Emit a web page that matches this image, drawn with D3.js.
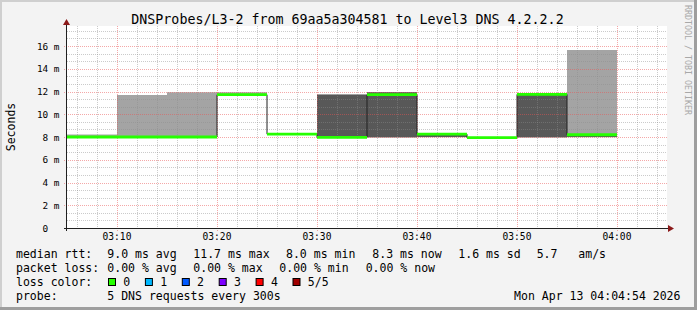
<!DOCTYPE html>
<html>
<head>
<meta charset="utf-8">
<script src="https://cdn.jsdelivr.net/npm/d3@7"></script>
<style>
  body { margin: 0; background: #f3f3f3; }
  svg { display: block; }
  text { font-family: "DejaVu Sans Mono", monospace; white-space: pre; }
</style>
</head>
<body>
<div id="chart"></div>
<script>
// five-minute probe rounds, start time of each step (UTC)
const stepStarts = ['03:05', '03:10', '03:15', '03:20', '03:25', '03:30',
    '03:35', '03:40', '03:45', '03:50', '03:55'];
// median rtt (ms) for each step
const median = [8.0, 8.0, 8.0, 11.72, 8.25, 7.97, 11.72, 8.25, 7.95, 11.75, 8.2];
// sorted ping values per step: lowest, 2nd, 4th, highest (ms)
const pingLow = [7.95, 7.95, 7.95, 11.70, 8.20, 7.95, 7.95, 7.97, 7.93, 7.95, 7.97];
const ping2 = [8.0, 8.0, 8.0, 11.72, 8.25, 7.97, 7.97, 7.99, 7.95, 7.97, 7.99];
const ping4 = [8.0, 8.0, 8.0, 11.75, 8.25, 11.72, 11.93, 8.25, 7.97, 11.75, 8.22];
const pingHigh = [8.22, 11.69, 11.93, 11.93, 8.30, 11.75, 11.95, 8.27, 8.00, 11.78, 15.65];

const yLabels = [0, 2, 4, 6, 8, 10, 12, 14, 16];
const lossLabels = ['0', '1', '2', '3', '4', '5/5'];
const lossColors = ['#26ff00', '#00b8ff', '#0059ff', '#7e00ff', '#ff0000', '#a10000'];

const legendRtt = [['9.0 ms avg', 107.3], ['11.7 ms max', 193.3], ['8.0 ms min', 286],
    ['8.3 ms now', 372.3], ['1.6 ms sd', 458.3], ['5.7   am/s', 536.7]];
const legendLoss = [['0.00 % avg', 107.3], ['0.00 % max', 193.3], ['0.00 % min', 279.3],
    ['0.00 % now', 365.7]];

const W = 697, H = 310;
const pLeft = 67, pRight = 667, pTop = 26, pBottom = 228;
const parseT = d3.utcParse('%H:%M');

const svg = d3.select('#chart').append('svg')
    .attr('width', W)
    .attr('height', H);

// frame shading
svg.append('rect').attr('width', W).attr('height', H).attr('fill', '#f3f3f3');
svg.append('path').attr('d', `M0,0H${W}V2H2V${H}H0Z`).attr('fill', '#cfcfcf');
svg.append('path').attr('d', `M${W},0V${H}H0V${H - 3}H${W - 3}V0Z`).attr('fill', '#9e9e9e');

const x = d3.scaleUtc()
    .domain([parseT('03:05'), parseT('04:05')])
    .range([pLeft, pRight]);
const y = d3.scaleLinear()
    .domain([0, 17.76])
    .range([pBottom, pTop]);

svg.append('rect')
    .attr('x', pLeft).attr('y', pTop)
    .attr('width', pRight - pLeft).attr('height', pBottom - pTop)
    .attr('fill', '#ffffff');

let rows = stepStarts.map((s, i) => ({
    t: parseT(s), med: median[i], p1: pingLow[i], p2: ping2[i], p4: ping4[i], p5: pingHigh[i]
}));
// closing point so the last step gets its width
let endT = d3.utcMinute.offset(rows[rows.length - 1].t, 5);
rows.push(Object.assign({}, rows[rows.length - 1], {t: endT}));

const plot = svg.append('g');

// smoke: outer band light, inner band dark
plot.append('path')
    .datum(rows)
    .attr('fill', '#a4a4a4')
    .attr('d', d3.area().curve(d3.curveStepAfter)
        .x(d => x(d.t)).y0(d => y(d.p1)).y1(d => y(d.p5)));
plot.append('path')
    .datum(rows)
    .attr('fill', '#585858')
    .attr('d', d3.area().curve(d3.curveStepAfter)
        .x(d => x(d.t)).y0(d => y(d.p2)).y1(d => y(d.p4)));

// grid on top of the smoke
const grid = svg.append('g').attr('fill', 'none').attr('stroke-dasharray', '1,1');
let minorY = d3.range(0, 17.76, 2 / 3).filter((v, i) => i % 3 !== 0);
grid.selectAll('.hmin').data(minorY).enter().append('line')
    .attr('x1', pLeft).attr('x2', pRight)
    .attr('y1', d => Math.round(y(d)) + 0.5).attr('y2', d => Math.round(y(d)) + 0.5)
    .attr('stroke', 'rgba(140,140,140,0.45)');
let minorX = x.ticks(d3.utcMinute.every(2)).filter(d => d.getUTCMinutes() % 10 !== 0);
grid.selectAll('.vmin').data(minorX).enter().append('line')
    .attr('y1', pTop).attr('y2', pBottom)
    .attr('x1', d => Math.round(x(d)) + 0.5).attr('x2', d => Math.round(x(d)) + 0.5)
    .attr('stroke', 'rgba(140,140,140,0.45)');
grid.selectAll('.hmaj').data(yLabels.slice(1)).enter().append('line')
    .attr('x1', pLeft - 3).attr('x2', pRight)
    .attr('y1', d => Math.round(y(d)) + 0.5).attr('y2', d => Math.round(y(d)) + 0.5)
    .attr('stroke', 'rgba(233,81,81,0.5)');
let majorX = x.ticks(d3.utcMinute.every(10));
grid.selectAll('.vmaj').data(majorX).enter().append('line')
    .attr('y1', pTop).attr('y2', pBottom + 3)
    .attr('x1', d => Math.round(x(d)) + 0.5).attr('x2', d => Math.round(x(d)) + 0.5)
    .attr('stroke', 'rgba(233,81,81,0.5)');

// median: dark step line with loss-coloured band over it
svg.append('path')
    .datum(rows)
    .attr('fill', 'none')
    .attr('stroke', '#202020')
    .attr('stroke-width', 1)
    .attr('d', d3.line().curve(d3.curveStepAfter).x(d => x(d.t)).y(d => y(d.med)));
svg.append('path')
    .datum(rows)
    .attr('fill', lossColors[0])
    .attr('d', d3.area().curve(d3.curveStepAfter)
        .x(d => x(d.t)).y0(d => y(d.med) + 1.4).y1(d => y(d.med) - 1.4));

// axes
svg.append('line').attr('x1', pLeft - 3).attr('x2', pRight + 2)
    .attr('y1', pBottom + 0.5).attr('y2', pBottom + 0.5).attr('stroke', '#202020');
svg.append('line').attr('x1', pLeft - 0.5).attr('x2', pLeft - 0.5)
    .attr('y1', pBottom + 3).attr('y2', pTop - 3).attr('stroke', '#202020');
svg.append('path').attr('d', `M${pLeft - 4},${pTop - 1}L${pLeft - 0.5},${pTop - 7}L${pLeft + 3},${pTop - 1}Z`)
    .attr('fill', '#8b1a1a');
svg.append('path').attr('d', `M${pRight + 1},${pBottom - 3}L${pRight + 7},${pBottom + 0.5}L${pRight + 1},${pBottom + 4}Z`)
    .attr('fill', '#8b1a1a');

svg.selectAll('.ylab').data(yLabels).enter().append('text')
    .attr('x', 59.5)
    .attr('y', d => y(d) + 3.5)
    .attr('text-anchor', 'end')
    .style('font-size', '9.4px')
    .attr('fill', '#000')
    .text(d => d === 0 ? '0  ' : `${d} m`);

svg.selectAll('.xlab').data(majorX.filter(d => d < x.domain()[1])).enter().append('text')
    .attr('x', d => x(d))
    .attr('y', 240)
    .attr('text-anchor', 'middle')
    .style('font-size', '9.6px')
    .text(d => d3.utcFormat('%H:%M')(d));

// titles
svg.append('text')
    .attr('x', 347.5).attr('y', 24)
    .attr('text-anchor', 'middle')
    .style('font-size', '13.3px')
    .text('DNSProbes/L3-2 from 69aa5a304581 to Level3 DNS 4.2.2.2');
svg.append('text')
    .attr('transform', 'translate(15,127) rotate(-90)')
    .attr('text-anchor', 'middle')
    .style('font-size', '11.5px')
    .text('Seconds');
svg.append('text')
    .attr('transform', 'translate(685,60) rotate(90)')
    .attr('text-anchor', 'middle')
    .style('font-size', '8.3px')
    .attr('fill', '#a8a8a8')
    .text('RRDTOOL / TOBI OETIKER');

// legend
const lg = svg.append('g').style('font-size', '11.53px');
lg.append('text').attr('x', 16).attr('y', 258.3).text('median rtt:');
lg.selectAll('.rtt').data(legendRtt).enter().append('text')
    .attr('x', d => d[1]).attr('y', 258.3).text(d => d[0]);
lg.append('text').attr('x', 16).attr('y', 272.3).text('packet loss:');
lg.selectAll('.loss').data(legendLoss).enter().append('text')
    .attr('x', d => d[1]).attr('y', 272.3).text(d => d[0]);
lg.append('text').attr('x', 16).attr('y', 286.3).text('loss color:');
lossLabels.forEach((l, i) => {
    let bx = 108.5 + i * 36.9;
    lg.append('rect').attr('x', bx).attr('y', 278.5).attr('width', 7).attr('height', 7)
        .attr('fill', lossColors[i]).attr('stroke', '#000');
    lg.append('text').attr('x', bx + 14.8).attr('y', 286.3).text(l);
});
lg.append('text').attr('x', 16).attr('y', 300.3).text('probe:');
lg.append('text').attr('x', 107.3).attr('y', 300.3).text('5 DNS requests every 300s');
lg.append('text').attr('x', 680.5).attr('y', 300.3).attr('text-anchor', 'end')
    .text('Mon Apr 13 04:04:54 2026');
</script>
</body>
</html>
